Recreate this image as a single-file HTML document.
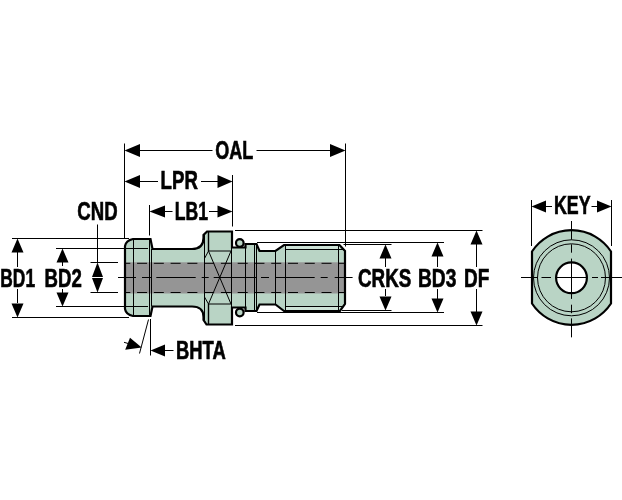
<!DOCTYPE html>
<html><head><meta charset="utf-8"><title>Drawing</title>
<style>
html,body{margin:0;padding:0;background:#fff;}
svg{display:block;}
text{font-family:"Liberation Sans",sans-serif;font-weight:bold;font-size:25px;fill:#000;stroke:#000;stroke-width:0.65px;}
.t{stroke:#000;stroke-width:1;fill:none;}
.k{stroke:#000;stroke-width:2.2;fill:none;stroke-linejoin:miter;}
.a{fill:#000;stroke:none;}
</style></head>
<body>
<svg width="622" height="500" viewBox="0 0 622 500">
<rect width="622" height="500" fill="#fff"/>

<!-- part body fill -->
<path id="body" fill="#b9d4c5" stroke="none" d="M125,246 Q126,240.5 133,239 L150.5,239 L152.5,249 L192,249 Q203.5,249 203.5,238 L203.5,235 L207,231.5 L232,231.5 L232,247.5 L245.5,247.5 L245.5,244 L256.5,244 L259.5,251 L275.5,251 L284,245 L339.5,245 L345,251 L345,304 L340,311 L284,311 L275.5,304.5 L259.5,304.5 L256.5,311 L245.5,311 L245.5,307.5 L232,307.5 L232,324.5 L206.5,324.5 L203.5,320 L203.5,317 Q203.5,306.5 192,306.5 L152.5,306.5 L150.5,316 L133,316 Q126,314.5 125,309 Z"/>
<!-- lighter thread strips -->
<rect x="285" y="245" width="55" height="4" fill="#cde2d6"/>
<rect x="285" y="306.5" width="55" height="4.5" fill="#cde2d6"/>
<!-- gray band -->
<rect x="126" y="262.3" width="218.5" height="31.2" fill="#959595"/>

<!-- o-rings -->
<circle cx="239.8" cy="243" r="3.8" fill="#b9d4c5" class="k" style="fill:#b9d4c5"/>
<circle cx="239.8" cy="312.5" r="3.8" class="k" style="fill:#b9d4c5"/>

<!-- thin internal lines -->
<g class="t">
<path d="M133.5,239V316 M149.5,239V316 M151.5,249V306.5 M204.5,235V320 M231.5,247V308 M245.5,247.5V307.5 M254.5,244V311 M256.5,244V311 M275.5,250.8V304.5 M285.5,245V311 M338.5,245V311"/>
<path d="M285,249.5H344 M285,306.5H344"/>
<path d="M208.5,251H231 M208.5,304H231 M208.5,251L231,304 M231,251L208.5,304 M204.5,258.5L208.5,251 M204.5,297L208.5,304"/>
<path d="M208.5,231V251 M208.5,304V324" stroke-width="1.4"/>
<!-- hidden lines -->
<path d="M126,263.3H344 M126,292.5H344" stroke-dasharray="10 6.77" stroke-dashoffset="5.7"/>
<!-- centre line -->
<path d="M118,277.5H136 M142,277.5H151 M156.3,277.5H195.7 M201.7,277.5H208.7 M213.7,277.5H256 M261,277.5H269 M275,277.5H314.7 M320.7,277.5H327.7 M334.7,277.5H352.6"/>
</g>

<!-- outline -->
<path class="k" d="M125,246 Q126,240.5 133,239 L150.5,239 L152.5,249 L192,249 Q203.5,249 203.5,238 L203.5,235 L207,231.5 L232,231.5 L232,247.5 L245.5,247.5 L245.5,244 L256.5,244 L259.5,251 L275.5,251 L284,245 L339.5,245 L345,251 L345,304 L340,311 L284,311 L275.5,304.5 L259.5,304.5 L256.5,311 L245.5,311 L245.5,307.5 L232,307.5 L232,324.5 L206.5,324.5 L203.5,320 L203.5,317 Q203.5,306.5 192,306.5 L152.5,306.5 L150.5,316 L133,316 Q126,314.5 125,309 Z"/>

<!-- dimension / extension lines -->
<g class="t">
<!-- OAL -->
<path d="M124.5,143.5V238.5 M345.5,143.5V246.5 M140,150.5H212.5 M256.5,150.5H330"/>
<!-- LPR -->
<path d="M232.5,175V226.5 M140,181.5H158 M201,181.5H218"/>
<!-- LB1 -->
<path d="M149.5,205V235.5 M165,211.5H172.5 M209,211.5H218"/>
<!-- CND -->
<path d="M97.5,224.5V262.5 M90.5,262.5H118 M90.5,292.5H118"/>
<!-- BD1 -->
<path d="M12,238.5H129 M12,317.5H129 M17.5,252V267 M17.5,289V303"/>
<!-- BD2 -->
<path d="M56,248.5H148 M56,306.5H148 M62.5,261V266 M62.5,289V294"/>
<!-- DF -->
<path d="M235,230.5H482.5 M235,325.5H482.5 M476.5,244V267 M476.5,289V312"/>
<!-- BD3 -->
<path d="M257,242.5H444 M257,312.5H444 M437.5,256V267 M437.5,289V299"/>
<!-- CRKS -->
<path d="M343.5,244.5H391.5 M342,310.5H391.5 M385.5,258V267 M385.5,289V296"/>
<!-- BHTA -->
<path d="M150.5,319V355.5 M148.5,319.5L139.5,353.5 M165,350.5H173.5 M124,342.3L128.5,343.6"/>
<!-- KEY -->
<path d="M531.5,200V246 M611.5,200V246 M546,206.5H552 M591.5,206.5H597.5"/>
<!-- KEY centre lines -->
<path d="M571.5,221V239.7 M571.5,244.3V252.7 M571.5,258.6V298.9 M571.5,304.7V313.2 M571.5,318.4V337.2"/>
<path d="M521,277.5H538 M541.5,277.5H551 M556,277.5H587 M592,277.5H598 M601,277.5H622"/>
</g>

<!-- arrows -->
<g class="a">
<!-- OAL -->
<path d="M124.5,150.5l15.5,-6.5v13z M345.5,150.5l-15.5,-6.5v13z"/>
<!-- LPR -->
<path d="M124.5,181.5l15.5,-6.5v13z M232.5,181.5l-15,-6.5v13z"/>
<!-- LB1 -->
<path d="M149.5,211.5l15.5,-6v12z M232.5,211.5l-15,-6v12z"/>
<!-- BD1 -->
<path d="M17.5,238.5l-6,14h12z M17.5,317.5l-6,-14h12z"/>
<!-- BD2 -->
<path d="M62.5,248.5l-6,14h12z M62.5,306.5l-6,-14h12z"/>
<!-- CND -->
<path d="M97.5,262.5l-5.5,14.5h11z M97.5,292.5l-5.5,-14.5h11z"/>
<!-- DF -->
<path d="M476.5,230.5l-6,14h12z M476.5,325.5l-6,-14h12z"/>
<!-- BD3 -->
<path d="M437.5,242.5l-6,14h12z M437.5,312.5l-6,-14h12z"/>
<!-- CRKS -->
<path d="M385.5,244.5l-6,14h12z M385.5,310.5l-6,-14h12z"/>
<!-- BHTA -->
<path d="M150.5,350.5l14.5,-6v12z"/>
<path d="M141.7,347.6L125.2,349.8L130,337.8z"/>
<!-- KEY -->
<path d="M531.5,206.5l14.5,-6v12z M611.5,206.5l-14.5,-6v12z"/>
</g>

<!-- KEY view -->
<path fill="#b9d4c5" class="k" style="fill:#b9d4c5" d="M532,251.5 A47.3,47.3 0 0 1 611,251.5 L611,303.5 A47.3,47.3 0 0 1 532,303.5 Z"/>
<circle cx="571.5" cy="277.8" r="38" class="t"/>
<circle cx="571.5" cy="277.8" r="34" class="t"/>
<circle cx="571.5" cy="277.8" r="15.4" class="k" style="fill:#fff"/>
<g class="t">
<path d="M571.5,221V239.7 M571.5,244.3V252.7 M571.5,258.6V298.9 M571.5,304.7V313.2 M571.5,318.4V337.2"/>
<path d="M521,277.5H538 M541.5,277.5H551 M556,277.5H587 M592,277.5H598 M601,277.5H622"/>
</g>

<!-- labels -->
<g opacity="0.999">
<text transform="translate(215.3,159.3) scale(0.720,1)">OAL</text>
<text transform="translate(160.6,189) scale(0.745,1)">LPR</text>
<text transform="translate(174.8,219.6) scale(0.705,1)">LB1</text>
<text transform="translate(77.3,219.7) scale(0.744,1)">CND</text>
<text transform="translate(0.3,286.9) scale(0.695,1)">BD1</text>
<text transform="translate(44.5,286.9) scale(0.745,1)">BD2</text>
<text transform="translate(358,286.6) scale(0.753,1)">CRKS</text>
<text transform="translate(418,286.6) scale(0.768,1)">BD3</text>
<text transform="translate(464,286.8) scale(0.758,1)">DF</text>
<text transform="translate(176,358.7) scale(0.737,1)">BHTA</text>
<text transform="translate(554,214.3) scale(0.712,1)">KEY</text>
</g>
</svg>
</body></html>
